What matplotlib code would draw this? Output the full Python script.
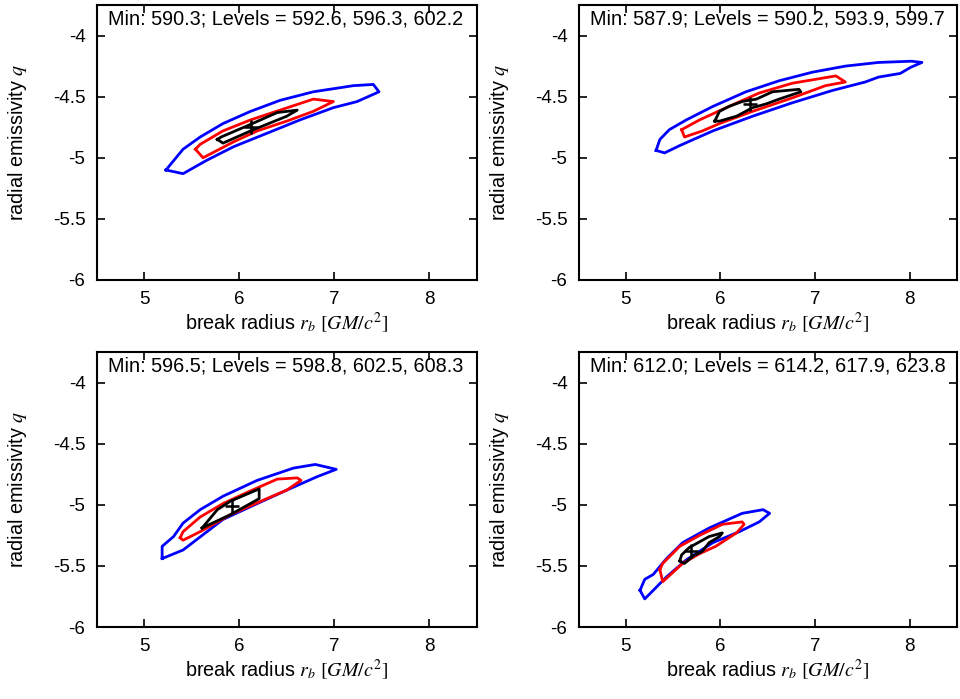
import numpy as np
import matplotlib
matplotlib.use("Agg")
import matplotlib.pyplot as plt

plt.rcParams.update({"font.family": "Liberation Sans", "mathtext.fontset": "stix",
                     "axes.unicode_minus": False, "font.size": 13})

# --- contour outlines (x = r_b, y = q) ---
# panel 1
p1_blue_x = [5.23, 5.41, 5.59, 5.83, 6.12, 6.43, 6.78, 7.20, 7.41, 7.47, 7.24, 6.99, 6.64, 6.29, 5.94, 5.66, 5.41, 5.23]
p1_blue_y = [-5.10, -4.93, -4.83, -4.72, -4.62, -4.53, -4.46, -4.41, -4.40, -4.46, -4.54, -4.59, -4.69, -4.80, -4.91, -5.02, -5.13, -5.10]
p1_red_x = [5.54, 5.59, 5.83, 6.12, 6.43, 6.78, 6.99, 6.78, 6.50, 6.19, 5.94, 5.62, 5.54]
p1_red_y = [-4.93, -4.89, -4.78, -4.69, -4.61, -4.52, -4.54, -4.62, -4.70, -4.78, -4.87, -5.00, -4.93]
p1_blk_x = [5.77, 5.81, 6.08, 6.40, 6.61, 6.50, 6.12, 5.83, 5.77]
p1_blk_y = [-4.85, -4.83, -4.74, -4.63, -4.61, -4.66, -4.78, -4.88, -4.85]
p1_best = (6.12, -4.75)

# panel 2
p2_blue_x = [5.32, 5.36, 5.46, 5.64, 5.92, 6.27, 6.62, 6.97, 7.32, 7.67, 8.02, 8.13, 8.01, 7.90, 7.67, 7.53, 7.18, 6.76, 6.34, 5.92, 5.57, 5.41, 5.32]
p2_blue_y = [-4.94, -4.85, -4.77, -4.69, -4.58, -4.46, -4.37, -4.30, -4.25, -4.22, -4.21, -4.22, -4.26, -4.31, -4.34, -4.38, -4.45, -4.55, -4.66, -4.78, -4.90, -4.96, -4.94]
p2_red_x = [5.59, 5.78, 6.09, 6.41, 6.76, 7.22, 7.32, 7.11, 6.76, 6.34, 5.99, 5.81, 5.62, 5.59]
p2_red_y = [-4.77, -4.69, -4.58, -4.47, -4.39, -4.33, -4.38, -4.41, -4.51, -4.62, -4.72, -4.78, -4.83, -4.77]
p2_blk_x = [5.94, 5.99, 6.09, 6.23, 6.38, 6.55, 6.83, 6.85, 6.62, 6.48, 6.34, 6.17, 5.99, 5.94]
p2_blk_y = [-4.70, -4.62, -4.58, -4.54, -4.52, -4.46, -4.44, -4.46, -4.52, -4.56, -4.59, -4.66, -4.70, -4.70]
p2_best = (6.31, -4.56)

# panel 3
p3_blue_x = [5.19, 5.19, 5.31, 5.41, 5.59, 5.83, 6.19, 6.57, 6.80, 7.02, 6.82, 6.50, 6.19, 5.83, 5.41, 5.19]
p3_blue_y = [-5.44, -5.34, -5.26, -5.15, -5.04, -4.93, -4.80, -4.70, -4.67, -4.71, -4.77, -4.88, -4.99, -5.12, -5.37, -5.44]
p3_red_x = [5.38, 5.41, 5.59, 5.83, 6.08, 6.40, 6.61, 6.65, 6.50, 6.26, 5.91, 5.59, 5.41, 5.38]
p3_red_y = [-5.27, -5.22, -5.10, -4.99, -4.90, -4.79, -4.78, -4.80, -4.88, -4.96, -5.08, -5.22, -5.29, -5.27]
p3_blk_x = [5.61, 5.77, 5.91, 6.21, 6.21, 5.91, 5.61]
p3_blk_y = [-5.19, -5.04, -4.97, -4.87, -4.95, -5.08, -5.19]
p3_best = (5.92, -5.01)

# panel 4
p4_blue_x = [5.15, 5.20, 5.29, 5.43, 5.60, 5.88, 6.23, 6.45, 6.52, 6.41, 6.20, 5.92, 5.64, 5.43, 5.29, 5.20, 5.15]
p4_blue_y = [-5.70, -5.61, -5.57, -5.44, -5.31, -5.19, -5.07, -5.04, -5.07, -5.14, -5.22, -5.31, -5.45, -5.59, -5.70, -5.77, -5.70]
p4_red_x = [5.36, 5.39, 5.57, 5.78, 6.02, 6.23, 6.25, 6.17, 5.95, 5.78, 5.60, 5.39, 5.36]
p4_red_y = [-5.53, -5.48, -5.34, -5.25, -5.16, -5.14, -5.16, -5.23, -5.34, -5.40, -5.48, -5.63, -5.53]
p4_blk_x = [5.57, 5.59, 5.67, 5.88, 6.02, 5.99, 5.88, 5.81, 5.71, 5.62, 5.57]
p4_blk_y = [-5.46, -5.41, -5.35, -5.26, -5.23, -5.26, -5.31, -5.38, -5.42, -5.48, -5.46]
p4_best = (5.69, -5.38)

titles = ["Min: 590.3; Levels = 592.6, 596.3, 602.2",
          "Min: 587.9; Levels = 590.2, 593.9, 599.7",
          "Min: 596.5; Levels = 598.8, 602.5, 608.3",
          "Min: 612.0; Levels = 614.2, 617.9, 623.8"]

panels = [
    (p1_blue_x, p1_blue_y, p1_red_x, p1_red_y, p1_blk_x, p1_blk_y, p1_best),
    (p2_blue_x, p2_blue_y, p2_red_x, p2_red_y, p2_blk_x, p2_blk_y, p2_best),
    (p3_blue_x, p3_blue_y, p3_red_x, p3_red_y, p3_blk_x, p3_blk_y, p3_best),
    (p4_blue_x, p4_blue_y, p4_red_x, p4_red_y, p4_blk_x, p4_blk_y, p4_best),
]

x_ticks = [5, 6, 7, 8]
y_ticks = [-6, -5.5, -5, -4.5, -4]
y_ticklabels = ["-6", "-5.5", "-5", "-4.5", "-4"]

fig = plt.figure(figsize=(9.6, 6.99), dpi=100)
W, H = 960, 699
boxes = [(96.5, 5, 477, 280), (578.5, 5, 957, 280),
         (96.5, 352, 477, 627), (578.5, 352, 957, 627)]

for (l, t, r, b), data, title in zip(boxes, panels, titles):
    ax = fig.add_axes([l / W, 1 - b / H, (r - l) / W, (b - t) / H])
    bx, by, rx, ry, kx, ky, best = data
    ax.plot(bx, by, color="#0000ff", lw=2.0)
    ax.plot(rx, ry, color="#ff0000", lw=2.0)
    ax.plot(kx, ky, color="black", lw=2.0)
    ax.plot([best[0]], [best[1]], marker="+", color="black", ms=10, mew=1.8)

    ax.set_xlim(4.5, 8.5)
    ax.set_ylim(-6, -3.75)
    ax.set_xticks(x_ticks)
    ax.set_yticks(y_ticks)
    ax.set_yticklabels(y_ticklabels)
    ax.tick_params(direction="in", top=True, right=True, length=6, width=1.2,
                   labelsize=13.5, pad=8)
    for s in ax.spines.values():
        s.set_linewidth(1.5)
    ax.text(0.03, 0.985, title, transform=ax.transAxes, ha="left", va="top", fontsize=14.3)
    ax.set_xlabel(r"break radius $r_b\ [GM/c^2]$", fontsize=14.3, labelpad=2)
    ax.set_ylabel(r"radial emissivity $q$", fontsize=14.3, labelpad=17)

fig.savefig("out.png", dpi=100)
